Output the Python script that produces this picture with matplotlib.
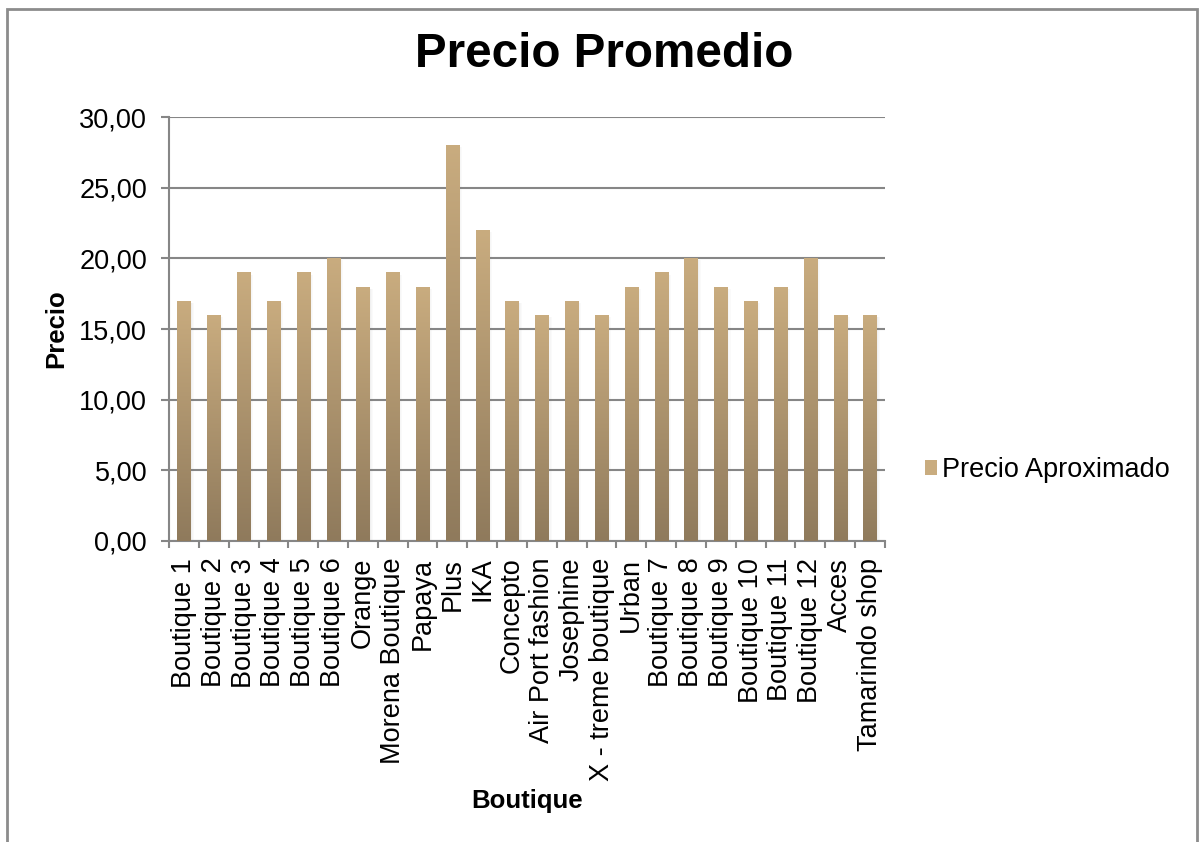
import numpy as np
import matplotlib.pyplot as plt
from matplotlib.colors import LinearSegmentedColormap
from matplotlib.patches import Rectangle

plt.rcParams["font.family"] = ["Liberation Sans", "DejaVu Sans"]

boutiques = [
    "Boutique 1", "Boutique 2", "Boutique 3", "Boutique 4", "Boutique 5",
    "Boutique 6", "Orange", "Morena Boutique", "Papaya", "Plus", "IKA",
    "Concepto", "Air Port fashion", "Josephine", "X - treme boutique",
    "Urban", "Boutique 7", "Boutique 8", "Boutique 9", "Boutique 10",
    "Boutique 11", "Boutique 12", "Acces", "Tamarindo shop",
]
precio = [17, 16, 19, 17, 19, 20, 18, 19, 18, 28, 22, 17, 16, 17, 16,
          18, 19, 20, 18, 17, 18, 20, 16, 16]
y_ticks = [0, 5, 10, 15, 20, 25, 30]

TOP = "#c9ac7f"
BOTTOM = "#8f7a5c"
GRID = "#868686"

fig = plt.figure(figsize=(11.99, 8.42), dpi=100)
ax = fig.add_axes([0.141, 0.3575, 0.597, 0.5035])

x = np.arange(len(boutiques))
w = 0.44

# faint drop shadow to the right of each bar
for xi, v in zip(x, precio):
    for k, a in enumerate([0.10, 0.06, 0.03]):
        ax.bar(xi + w / 2 + 0.035 * k + 0.0175, v - 0.15, width=0.035,
               bottom=0, color="#707070", alpha=a, linewidth=0, zorder=2)

bars = ax.bar(x, precio, width=w, color=TOP, linewidth=0, zorder=3,
              label="Precio Aproximado")

# vertical gradient on every bar
cmap = LinearSegmentedColormap.from_list("bar", [BOTTOM, TOP])
grad = np.linspace(0, 1, 256).reshape(-1, 1)
for b in bars:
    x0, y0 = b.get_x(), b.get_y()
    im = ax.imshow(grad, cmap=cmap, origin="lower", aspect="auto",
                   extent=(x0, x0 + b.get_width(), y0, y0 + b.get_height()),
                   zorder=3, interpolation="bicubic")
    im.set_clip_path(b)

ax.set_xlim(-0.5, len(boutiques) - 0.5)
ax.set_ylim(0, 30)
ax.set_yticks(y_ticks)
ax.set_yticklabels([f"{v:.2f}".replace(".", ",") for v in y_ticks], fontsize=19.5)
ax.set_xticks(x)
ax.set_xticklabels(boutiques, rotation=90, fontsize=19.5)
ax.set_xticks(np.arange(-0.5, len(boutiques)), minor=True)
ax.tick_params(axis="x", which="major", length=0, pad=12)
ax.tick_params(axis="x", which="minor", length=5, width=1.5, color=GRID)
ax.tick_params(axis="y", length=5.8, width=1.5, color=GRID, pad=10)

ax.grid(axis="y", color=GRID, linewidth=1.5, zorder=1)
ax.set_axisbelow(True)
for side in ["top", "right"]:
    ax.spines[side].set_visible(False)
for side in ["left", "bottom"]:
    ax.spines[side].set_color(GRID)
    ax.spines[side].set_linewidth(1.5)

ax.set_xlabel("Boutique", fontsize=18.5, fontweight="bold")
ax.xaxis.set_label_coords(0.5, -0.585)
ax.set_ylabel("Precio", fontsize=18.5, fontweight="bold")
ax.yaxis.set_label_coords(-0.141, 0.5)

fig.text(604 / 1199, 1 - 67 / 842, "Precio Promedio", fontsize=34.3,
         fontweight="bold", ha="center", va="baseline")

fig.legend(handles=[bars], labels=["Precio Aproximado"],
           loc="center right", bbox_to_anchor=(1170 / 1199, 1 - 470 / 842),
           frameon=False, fontsize=19.5, borderpad=0, borderaxespad=0,
           handlelength=0.45, handleheight=0.45, handletextpad=0.2)

# outer chart frame
fig.patches.append(Rectangle((7 / 1199, -0.05), 1190 / 1199, 1 - 9 / 842 + 0.05,
                             transform=fig.transFigure, fill=False,
                             edgecolor="#8c8c8c", linewidth=2))

fig.savefig("out.png", dpi=100)
